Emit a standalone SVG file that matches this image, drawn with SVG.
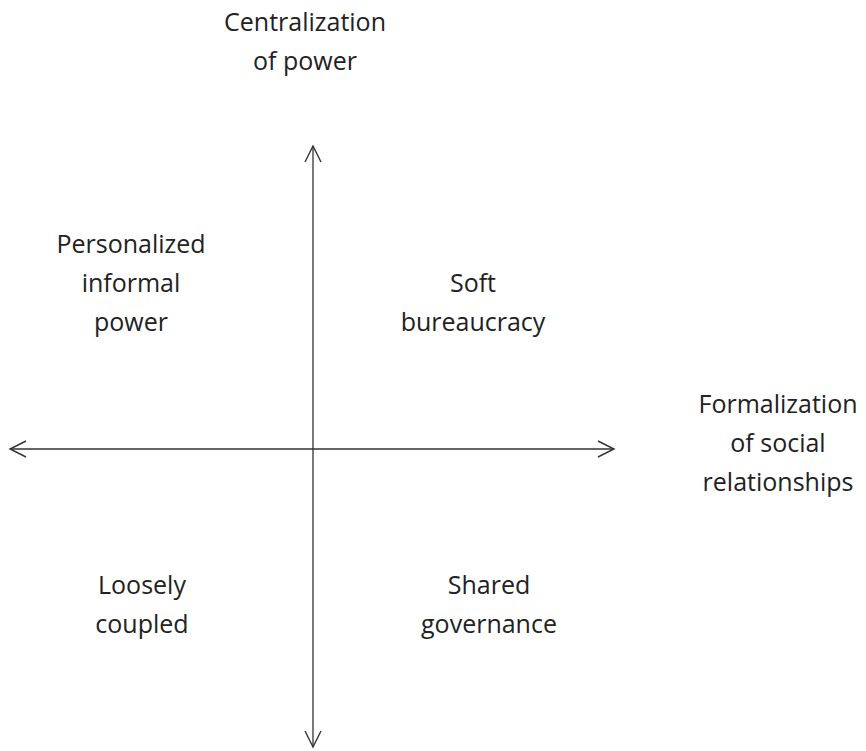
<svg xmlns="http://www.w3.org/2000/svg" width="866" height="751" viewBox="0 0 866 751">
<style>
text{font-family:"Open Sans","Noto Sans",sans-serif;font-size:25px;fill:#222;text-anchor:middle}
.ax{stroke:#333;stroke-width:1.3;fill:none}
</style>
<defs>
<marker id="ah" viewBox="0 0 20 20" refX="18" refY="10" markerWidth="20" markerHeight="20" markerUnits="userSpaceOnUse" orient="auto-start-reverse">
<path d="M2,2 L18,10 L2,18" fill="none" stroke="#333" stroke-width="1.4"/>
</marker>
</defs>
<rect width="866" height="751" fill="#fff"/>
<g id="connectors">
<line class="ax" x1="313" y1="146" x2="313" y2="747" marker-start="url(#ah)" marker-end="url(#ah)"/>
<line class="ax" x1="10" y1="449" x2="614" y2="449" marker-start="url(#ah)" marker-end="url(#ah)"/>
</g>
<g id="centralization"><text x="305" y="31">Centralization</text><text x="305" y="70">of power</text></g>
<g id="formalization"><text x="778" y="413">Formalization</text><text x="778" y="452">of social</text><text x="778" y="491">relationships</text></g>
<g id="personalized"><text x="131" y="253">Personalized</text><text x="131" y="292">informal</text><text x="131" y="331">power</text></g>
<g id="soft"><text x="473" y="292">Soft</text><text x="473" y="331">bureaucracy</text></g>
<g id="loosely"><text x="142" y="594">Loosely</text><text x="142" y="633">coupled</text></g>
<g id="shared"><text x="489" y="594">Shared</text><text x="489" y="633">governance</text></g>
</svg>
